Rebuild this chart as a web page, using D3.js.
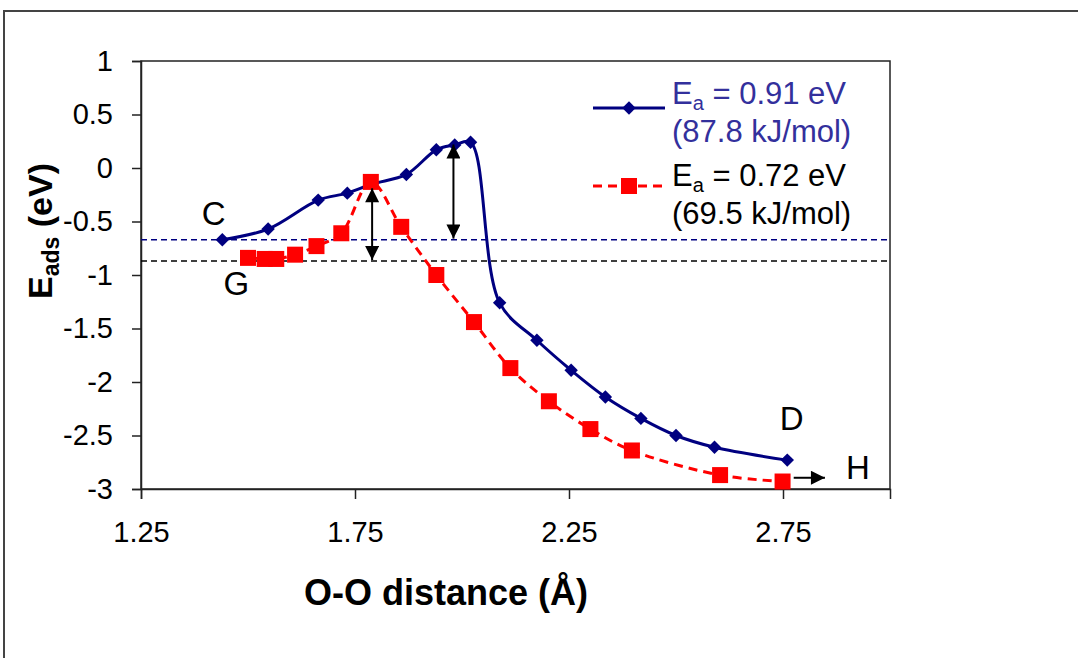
<!DOCTYPE html>
<html>
<head>
<meta charset="utf-8">
<script src="https://cdn.jsdelivr.net/npm/d3@7"></script>
<style>
  body { margin: 0; background: #fff; }
  text { font-family: "Liberation Sans", Arial, sans-serif; }
</style>
</head>
<body>
<div class="chart"></div>
<script>
// O-O distance (Å) and adsorption energy (eV)
const blueX = [1.44, 1.547, 1.664, 1.732, 1.79, 1.87, 1.94, 1.983, 2.02, 2.088, 2.175, 2.255, 2.335, 2.418, 2.50, 2.59, 2.76]
const blueY = [-0.67, -0.57, -0.30, -0.235, -0.15, -0.06, 0.17, 0.215, 0.24, -1.26, -1.61, -1.89, -2.14, -2.34, -2.50, -2.61, -2.73]
const redX = [1.50, 1.539, 1.566, 1.61, 1.66, 1.718, 1.787, 1.858, 1.94, 2.028, 2.113, 2.203, 2.30, 2.397, 2.603, 2.749]
const redY = [-0.84, -0.85, -0.85, -0.81, -0.73, -0.61, -0.13, -0.55, -1.00, -1.44, -1.87, -2.18, -2.44, -2.64, -2.87, -2.93]
const xTicks = [1.25, 1.75, 2.25, 2.75]
const yTicks = [1, 0.5, 0, -0.5, -1, -1.5, -2, -2.5, -3]
const refLevels = [-0.67, -0.87]
const refColours = ["#000080", "#000000"]
const arrowX = [1.79, 1.98]
const arrowTop = [-0.19, 0.22]
const arrowBottom = [-0.86, -0.66]
const pointLabels = ["C", "G", "D", "H"]
const pointLabelX = [1.42, 1.473, 2.77, 2.925]
const pointLabelY = [-0.53, -1.19, -2.45, -2.91]

const svg = d3.select(".chart").append("svg").attr("width", 1078).attr("height", 658)
const plot = {left: 141, right: 890, top: 61, bottom: 489}

const x = d3.scaleLinear().domain([1.25, 3.0]).range([plot.left, plot.right])
const y = d3.scaleLinear().domain([-3, 1]).range([plot.bottom, plot.top])

// outer frame
svg.append("path").attr("d", "M4,700 L4,11 L1080,11").attr("fill", "none")
   .attr("stroke", "#444").attr("stroke-width", 2)

// plot area box
svg.append("rect").attr("x", plot.left).attr("y", plot.top)
   .attr("width", plot.right - plot.left).attr("height", plot.bottom - plot.top)
   .attr("fill", "none").attr("stroke", "#222").attr("stroke-width", 1.5)

// axes
svg.append("g").attr("transform", `translate(${plot.left},0)`)
   .call(d3.axisLeft(y).tickValues(yTicks).tickSize(9).tickPadding(19).tickFormat(d => String(d)))
svg.append("g").attr("transform", `translate(0,${plot.bottom})`)
   .call(d3.axisBottom(x).tickValues(xTicks).tickSize(10).tickPadding(22).tickFormat(d3.format(".2f")))
svg.selectAll(".domain").attr("stroke", "#222").attr("stroke-width", 1.5)
svg.selectAll(".tick line").attr("stroke", "#222").attr("stroke-width", 1.5)
svg.selectAll(".tick text").attr("font-size", 29).attr("fill", "#000")
   .style("font-family", "'Liberation Sans', Arial, sans-serif")

// axis titles
svg.append("text").attr("x", 446).attr("y", 605).attr("text-anchor", "middle")
   .attr("font-size", 36).attr("font-weight", "bold").text("O-O distance (Å)")
const yTitle = svg.append("text").attr("transform", "translate(52,231) rotate(-90)")
   .attr("text-anchor", "middle").attr("font-size", 34).attr("font-weight", "bold")
yTitle.append("tspan").text("E")
yTitle.append("tspan").attr("font-size", 23).attr("dy", 7).text("ads")
yTitle.append("tspan").attr("dy", -7).text(" (eV)")

// reference levels (dashed)
svg.selectAll(".ref").data(refLevels).enter().append("line").attr("class", "ref")
   .attr("x1", plot.left).attr("x2", plot.right)
   .attr("y1", d => y(d)).attr("y2", d => y(d))
   .attr("stroke", (d, i) => refColours[i]).attr("stroke-width", 1.5).attr("stroke-dasharray", "6,4")

// series
const blueData = blueX.map((d, i) => [d, blueY[i]])
const redData = redX.map((d, i) => [d, redY[i]])
const line = d3.line().x(d => x(d[0])).y(d => y(d[1])).curve(d3.curveCatmullRom.alpha(0.5))

svg.append("path").attr("d", line(blueData)).attr("fill", "none")
   .attr("stroke", "#000080").attr("stroke-width", 3)
const diamond = d3.symbol(d3.symbolSquare, 90)
svg.selectAll(".blue").data(blueData).enter().append("path").attr("class", "blue")
   .attr("d", diamond).attr("fill", "#000080")
   .attr("transform", d => `translate(${x(d[0])},${y(d[1])}) rotate(45)`)

svg.append("path").attr("d", line(redData)).attr("fill", "none")
   .attr("stroke", "#ff0000").attr("stroke-width", 3).attr("stroke-dasharray", "9,6")
svg.selectAll(".red").data(redData).enter().append("rect").attr("class", "red")
   .attr("x", d => x(d[0]) - 8).attr("y", d => y(d[1]) - 8)
   .attr("width", 16).attr("height", 16).attr("fill", "#ff0000")

// arrow heads
const defs = svg.append("defs")
defs.append("marker").attr("id", "head").attr("viewBox", "0 0 10 10").attr("refX", 10).attr("refY", 5)
   .attr("markerUnits", "userSpaceOnUse").attr("markerWidth", 15).attr("markerHeight", 14)
   .attr("orient", "auto-start-reverse")
   .append("path").attr("d", "M0,0 L10,5 L0,10 Z").attr("fill", "#000")

svg.selectAll(".barrier").data(arrowX).enter().append("line").attr("class", "barrier")
   .attr("x1", d => x(d)).attr("x2", d => x(d))
   .attr("y1", (d, i) => y(arrowTop[i])).attr("y2", (d, i) => y(arrowBottom[i]))
   .attr("stroke", "#000").attr("stroke-width", 2)
   .attr("marker-start", "url(#head)").attr("marker-end", "url(#head)")

// arrow toward H
svg.append("line").attr("x1", x(2.775)).attr("x2", x(2.848)).attr("y1", y(-2.895)).attr("y2", y(-2.895))
   .attr("stroke", "#000").attr("stroke-width", 2).attr("marker-end", "url(#head)")

// point letters
svg.selectAll(".letter").data(pointLabels).enter().append("text").attr("class", "letter")
   .attr("x", (d, i) => x(pointLabelX[i])).attr("y", (d, i) => y(pointLabelY[i]))
   .attr("text-anchor", "middle").attr("font-size", 33).text(d => d)

// legend
const legend = svg.append("g")
legend.append("line").attr("x1", 593).attr("x2", 665).attr("y1", 108).attr("y2", 108)
   .attr("stroke", "#000080").attr("stroke-width", 3)
legend.append("path").attr("d", diamond).attr("fill", "#000080").attr("transform", "translate(629,108) rotate(45)")
legend.append("line").attr("x1", 593).attr("x2", 665).attr("y1", 186).attr("y2", 186)
   .attr("stroke", "#ff0000").attr("stroke-width", 3).attr("stroke-dasharray", "9,6")
legend.append("rect").attr("x", 621).attr("y", 178).attr("width", 16).attr("height", 16).attr("fill", "#ff0000")

const legendText = [["0.91", "87.8", "#33309c", 104], ["0.72", "69.5", "#000", 186]]
legendText.forEach(t => {
  const first = legend.append("text").attr("x", 672).attr("y", t[3]).attr("font-size", 31).attr("fill", t[2])
  first.append("tspan").text("E")
  first.append("tspan").attr("font-size", 20).attr("dy", 6).text("a")
  first.append("tspan").attr("dy", -6).text(` = ${t[0]} eV`)
  legend.append("text").attr("x", 672).attr("y", t[3] + 38).attr("font-size", 31).attr("fill", t[2])
        .text(`(${t[1]} kJ/mol)`)
})
</script>
</body>
</html>
